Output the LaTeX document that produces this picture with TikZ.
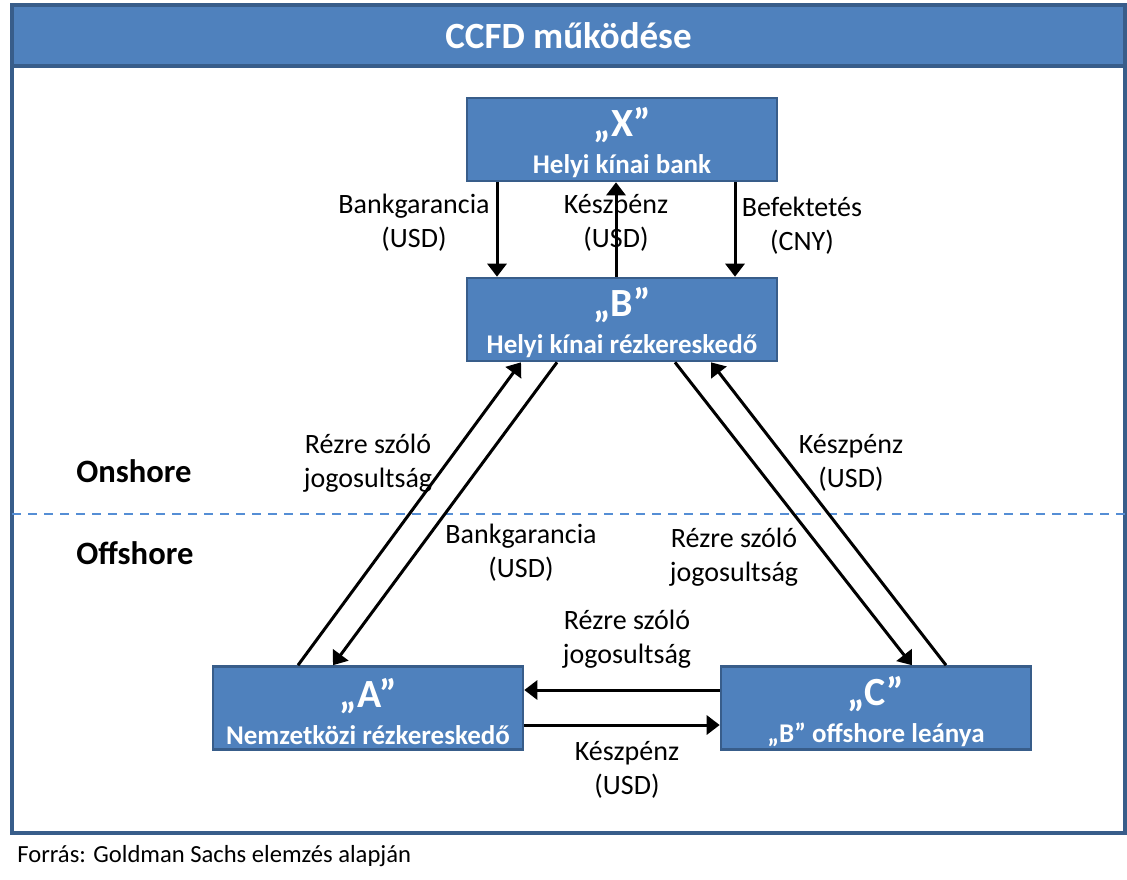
\documentclass[tikz,border=0pt]{standalone}
\usepackage{fontspec}
\setmainfont{Carlito}
\usetikzlibrary{arrows.meta,calc}
\definecolor{Box}{HTML}{4F81BD}
\definecolor{Edge}{HTML}{385D8A}
\definecolor{Dash}{HTML}{558ED5}
\newcommand{\bigq}[1]{\rule{0pt}{18pt}{\fontsize{20}{22}\selectfont #1}}

\begin{document}
\begin{tikzpicture}[x=0.5pt,y=-0.5pt,>={Triangle[length=6.5pt,width=9.5pt]},
    party/.style={draw=Edge,line width=1.3pt,fill=Box,text=white,minimum width=155pt,
      minimum height=41.5pt,inner ysep=0pt,align=center,font=\bfseries\fontsize{13.5}{16}\selectfont},
    lbl/.style={align=center,font=\fontsize{14}{17}\selectfont},
    side/.style={anchor=west,inner sep=0pt,font=\bfseries\fontsize{16.3}{19}\selectfont},
    flow/.style={->,line width=1.5pt}]
    \useasboundingbox (0,0) rectangle (1127,879);
    % frame and title bar
    \draw[Edge,line width=1.6pt,fill=white] (12,5) rectangle (1125,833);
    \draw[Edge,line width=1.6pt,fill=Box] (12,5) rectangle (1125,66);
    \node[text=white,font=\bfseries\fontsize{18.5}{22}\selectfont] (title) at (568.5,36) {CCFD működése};
    \draw[Dash,line width=1.3pt,dash pattern=on 4.5pt off 3.5pt] (12,514) -- (1125,514);
    \node[side] (on) at (76,471) {Onshore};
    \node[side] (off) at (76,553) {Offshore};
    % parties
    \node[party] (X) at (622,139.5) {\bigq{„X”}\\[2.5pt]Helyi kínai bank};
    \node[party] (B) at (622,319.5) {\bigq{„B”}\\[2.5pt]Helyi kínai rézkereskedő};
    \node[party] (A) at (368,708) {\bigq{„A”}\\[2.5pt]Nemzetközi rézkereskedő};
    \node[party] (C) at (876,708) {\bigq{„C”}\\[2.5pt]„B” offshore leánya};
    % labels
    \node[lbl] (l1) at (414,223) {Bankgarancia\\(USD)};
    \node[lbl] (l2) at (616,223) {Készpénz\\(USD)};
    \node[lbl] (l3) at (802,226) {Befektetés\\(CNY)};
    \node[lbl] (l4) at (368,463) {Rézre szóló\\jogosultság};
    \node[lbl] (l5) at (521,553) {Bankgarancia\\(USD)};
    \node[lbl] (l6) at (851,463) {Készpénz\\(USD)};
    \node[lbl] (l7) at (734,557) {Rézre szóló\\jogosultság};
    \node[lbl] (l8) at (627,639) {Rézre szóló\\jogosultság};
    \node[lbl] (l9) at (627,770) {Készpénz\\(USD)};
    % flows
    \foreach \s/\sx/\t/\tx in {X.south/-125/B.north/-125,B.north/-6/X.south/-6,X.south/113/B.north/113,
        A.north/-70/B.south/-101,B.south/-65/A.north/-35,B.south/53/C.north/36,C.north/70/B.south/89}
      \draw[flow] ($(\s)+(\sx,0)$) -- ($(\t)+(\tx,0)$);
    \draw[flow] ($(C.west)+(0,-18)$) -- ($(A.east)+(0,-18)$);
    \draw[flow] ($(A.east)+(0,17)$) -- ($(C.west)+(0,17)$);
    \node[anchor=west,inner sep=0pt,font=\fontsize{12.3}{15}\selectfont] (src) at (17,856) {Forrás: Goldman Sachs elemzés alapján};
  \end{tikzpicture}
\end{document}
